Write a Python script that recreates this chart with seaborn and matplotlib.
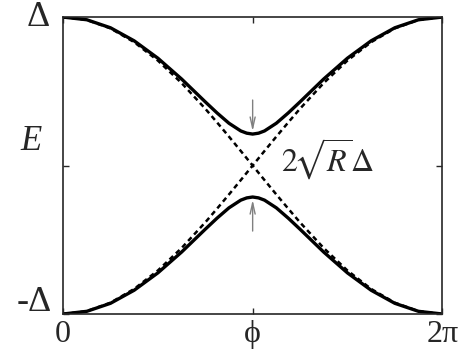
import matplotlib
matplotlib.use("Agg")
import matplotlib.pyplot as plt
import numpy as np
import pandas as pd
import seaborn as sns

# phase in units of pi (0 .. 2pi), denser around the gap at pi
phi = [0, 0.125, 0.25, 0.375, 0.5, 0.625, 0.75, 0.8125, 0.875, 0.9375,
       0.96875, 1.0, 1.03125, 1.0625, 1.125, 1.1875, 1.25, 1.375, 1.5,
       1.625, 1.75, 1.875, 2.0]

# Andreev level with finite reflection (solid), in units of Delta
e_upper = [1.00, 0.982, 0.928, 0.840, 0.723, 0.583, 0.429, 0.354, 0.285,
           0.233, 0.218, 0.212, 0.218, 0.233, 0.285, 0.354, 0.429, 0.583,
           0.723, 0.840, 0.928, 0.982, 1.00]
e_lower = [-v for v in e_upper]

# perfect transmission (dashed), crossing at pi
e_cross = [1.00, 0.981, 0.924, 0.831, 0.707, 0.556, 0.383, 0.290, 0.195,
           0.098, 0.049, 0.0, -0.049, -0.098, -0.195, -0.290, -0.383,
           -0.556, -0.707, -0.831, -0.924, -0.981, -1.00]
e_cross2 = [-v for v in e_cross]

xtick_pos = [0, 1, 2]
xtick_labels = ["0", "ϕ", "2π"]

df = pd.DataFrame({"phi": phi, "up": e_upper, "lo": e_lower,
                   "c1": e_cross, "c2": e_cross2})

sns.set_style("ticks")
plt.rcParams["font.family"] = ["Liberation Serif", "DejaVu Serif"]
plt.rcParams["mathtext.fontset"] = "stix"

fig = plt.figure(figsize=(4.64, 3.56), dpi=100)
ax = fig.add_axes([0.136, 0.118, 0.817, 0.834])

for col in ["c1", "c2"]:
    sns.lineplot(data=df, x="phi", y=col, ax=ax, color="black", lw=1.8,
                 dashes=False, linestyle=(0, (2.0, 1.5)))
for col in ["up", "lo"]:
    sns.lineplot(data=df, x="phi", y=col, ax=ax, color="black", lw=2.4)

ax.set_xlim(0, 2)
ax.set_ylim(-1, 1)
ax.set_xlabel("")
ax.set_ylabel("")
ax.set_xticks(xtick_pos)
ax.set_xticklabels(xtick_labels, fontsize=23)
ax.set_yticks([-1, 0, 1])
ax.set_yticklabels([])
ax.tick_params(direction="in", length=4, width=1, top=True, right=True,
               pad=4)
for s in ax.spines.values():
    s.set_linewidth(1.2)

# y labels
ax.text(-0.13, 1.0, "Δ", fontsize=26, ha="center", va="center",
        clip_on=False)
ax.text(-0.15, -0.92, "-Δ", fontsize=26, ha="center", va="center",
        clip_on=False)
ax.text(-0.17, 0.16, "E", fontsize=25, style="italic", ha="center",
        va="center", clip_on=False)

# gap arrows
arrow = dict(arrowstyle="->,head_length=0.8,head_width=0.18",
             color="gray", lw=1)
ax.annotate("", xy=(1, e_upper[11]), xytext=(1, 0.46), arrowprops=arrow)
ax.annotate("", xy=(1, e_lower[11]), xytext=(1, -0.46), arrowprops=arrow)
ax.text(1.15, 0.04, r"$2\!\sqrt{R}\Delta$", fontsize=23, ha="left",
        va="center")

fig.savefig("out.png", dpi=100)
